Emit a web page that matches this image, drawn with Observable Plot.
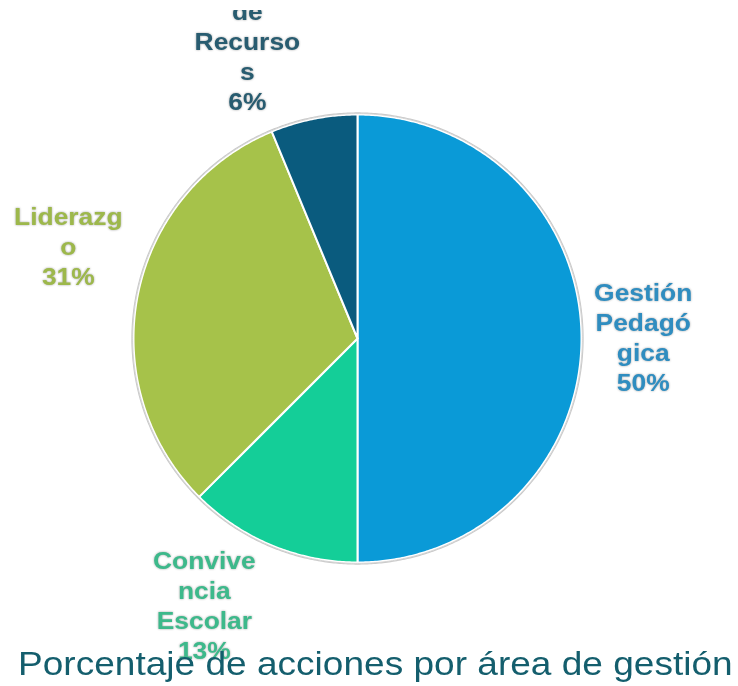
<!DOCTYPE html>
<html>
<head>
<meta charset="utf-8">
<script src="https://cdn.jsdelivr.net/npm/d3@7"></script>
<script src="https://cdn.jsdelivr.net/npm/@observablehq/plot@0.6"></script>
<style>
  html, body { margin: 0; padding: 0; background: #fff; }
  #wrap { position: relative; width: 738px; height: 686px; overflow: hidden; }
  #chart { position: absolute; left: 0; top: 10px; }
  #title {
    position: absolute; left: 18px; top: 647.5px; margin: 0;
    font-family: "Liberation Sans", Arial, sans-serif; font-size: 32.5px;
    line-height: 1; color: #145E6D; white-space: nowrap; font-weight: normal;
    transform: scaleX(1.14); transform-origin: 0 0;
  }
  .lbl text { filter: drop-shadow(0 0 1px rgba(0,0,0,0.35)); }
</style>
</head>
<body>
<div id="wrap">
  <div id="chart"></div>
  <div id="title">Porcentaje de acciones por área de gestión</div>
</div>
<script>
// ---- data ----
const categories = ["Gestión Pedagógica", "Convivencia Escolar", "Liderazgo", "Gestión de Recursos"];
const counts = [8, 2, 5, 1];
const labelWraps = [
  ["Gestión", "Pedagó", "gica"],
  ["Convive", "ncia", "Escolar"],
  ["Liderazg", "o"],
  ["Gestión", "de", "Recurso", "s"]
];
const sliceColors = ["#0A9AD7", "#14CE98", "#A6C24A", "#0A5B7E"];
const labelColors = ["#2F8DC0", "#3DB98B", "#9DB84B", "#285C70"];

// ---- geometry from d3.pie ----
const total = d3.sum(counts);
const arcs = d3.pie().sort(null).startAngle(0).endAngle(2 * Math.PI)(counts);

const slicePts = [];
arcs.forEach((a, i) => {
  slicePts.push({cat: categories[i], x: 0, y: 0});
  const n = Math.max(2, Math.ceil((a.endAngle - a.startAngle) / (Math.PI / 360)));
  for (let k = 0; k <= n; k++) {
    const t = a.startAngle + (a.endAngle - a.startAngle) * k / n;
    slicePts.push({cat: categories[i], x: Math.sin(t), y: Math.cos(t)});
  }
  slicePts.push({cat: categories[i], x: 0, y: 0});
});

const rim = d3.range(0, 721).map(k => {
  const t = k / 720 * 2 * Math.PI;
  return {x: Math.sin(t) * 1.004, y: Math.cos(t) * 1.004};
});

const labels = arcs.map((a, i) => {
  const mid = (a.startAngle + a.endAngle) / 2;
  const pct = Math.round(counts[i] / total * 100) + "%";
  return {
    cat: categories[i],
    text: labelWraps[i].concat([pct]).join("\n"),
    mx: Math.sin(mid), my: Math.cos(mid)
  };
});

// per-label placement (radius factor, pixel nudges)
const place = [
  {r: 1.28, dx: -1, dy: -2},
  {r: 1.32, dx: -40, dy: -7},
  {r: 1.33, dx: 3, dy: -35},
  {r: 1.33, dx: -52, dy: -6}
];

const R = 224, cx = 357, cy = 328;

const textMarks = labels.map((l, i) => Plot.text([l], {
  x: d => d.mx * place[i].r,
  y: d => d.my * place[i].r,
  text: "text",
  fill: labelColors[i],
  fontSize: 24,
  fontWeight: "bold",
  lineHeight: 1.25,
  textAnchor: "middle",
  lineAnchor: "middle",
  dx: place[i].dx,
  dy: place[i].dy,
  className: "lbl"
}));

const chart = Plot.plot({
  width: 738,
  height: 676,
  margin: 0,
  style: {fontFamily: "'Liberation Sans', Arial, sans-serif", background: "transparent"},
  x: {domain: [-1, 1], range: [cx - R, cx + R], axis: null},
  y: {domain: [-1, 1], range: [cy + R, cy - R], axis: null},
  color: {domain: categories, range: sliceColors},
  marks: [
    Plot.line(rim, {x: "x", y: "y", stroke: "#c9c9c9", strokeWidth: 2.5}),
    Plot.line(slicePts, {x: "x", y: "y", z: "cat", fill: "cat", stroke: "#ffffff", strokeWidth: 2, strokeLinejoin: "round"}),
    Plot.line(rim, {x: "x", y: "y", stroke: "#d4d4d4", strokeWidth: 1}),
    ...textMarks
  ]
});
chart.style.overflow = "hidden";
// widen label glyphs slightly about their anchor
chart.querySelectorAll(".lbl text").forEach(t => {
  const tr = t.getAttribute("transform") || "";
  t.setAttribute("transform", tr + " scale(1.1,1)");
});
document.getElementById("chart").appendChild(chart);
</script>
</body>
</html>
